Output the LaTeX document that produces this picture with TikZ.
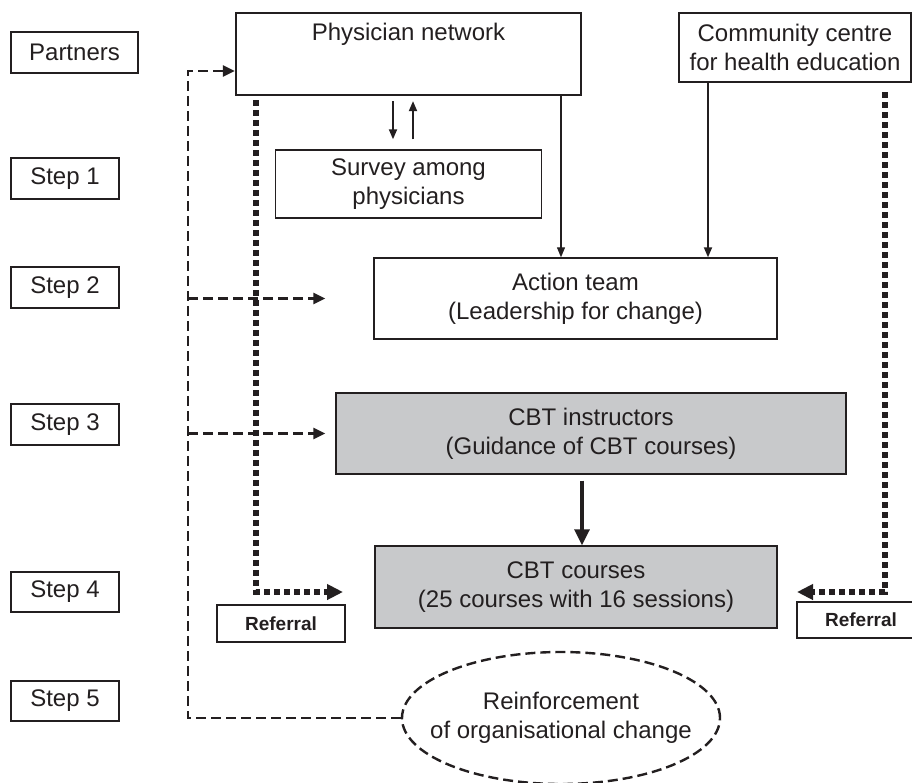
\documentclass[tikz,border=0pt]{standalone}
\usepackage{fontspec}
\setmainfont{Liberation Sans}
\usetikzlibrary{arrows.meta,shapes.geometric,calc}
\definecolor{ink}{RGB}{35,31,32}
\definecolor{boxgray}{RGB}{200,201,203}
\begin{document}
\begin{tikzpicture}[x=0.5pt,y=-0.5pt,
  font=\fontsize{12}{14.5}\selectfont, text=ink,
  box/.style={draw=ink, line width=0.7pt, inner sep=0pt, align=center},
  stepbox/.style={box, minimum height=20.5pt},
  grbox/.style={box, fill=boxgray},
  refbox/.style={box, font=\fontsize{9.5}{11}\selectfont\bfseries, minimum width=64pt, minimum height=18.5pt},
  thinarr/.style={draw=ink, line width=0.9pt, -{Triangle[length=5pt,width=4pt]}},
  dashline/.style={draw=ink, line width=1.2pt, dash pattern=on 5pt off 2.5pt},
  dasharr/.style={dashline, -{Triangle[length=6pt,width=5.5pt]}},
  dotarr/.style={draw=ink, line width=2.6pt, dash pattern=on 2.9pt off 2.1pt, -{Triangle[length=8pt,width=7.5pt]}},
  bigarr/.style={draw=ink, line width=1.6pt, -{Triangle[length=8pt,width=7.5pt]}}]
\useasboundingbox (0,0) rectangle (912,783);
\clip (0,0) rectangle (912,783);

% left column
\node[stepbox, minimum width=63.5pt] (partners) at (74.5,52.5) {Partners};
\node[stepbox, minimum width=54pt] (s1) at (65,178.5) {Step 1};
\node[stepbox, minimum width=54pt] (s2) at (65,287.5) {Step 2};
\node[stepbox, minimum width=54pt] (s3) at (65,424.5) {Step 3};
\node[stepbox, minimum width=54pt, minimum height=20pt] (s4) at (65,592) {Step 4};
\node[stepbox, minimum width=54pt, minimum height=20pt] (s5) at (65,701) {Step 5};

% main boxes
\node[box, line width=1.1pt, minimum width=172.5pt, minimum height=41pt,
      label={[anchor=center, yshift=-11pt]north:Physician network}] (pn) at (408.5,54) {};
\node[box, line width=0.9pt, minimum width=116pt, minimum height=34.5pt] (cc) at (795,47.5)
  {Community centre\\for health education};
\node[box, minimum width=133pt, minimum height=34pt] (survey) at (408.5,184)
  {Survey among\\physicians};
\node[box, minimum width=201.5pt, minimum height=40.5pt] (action) at (575.5,298.5)
  {Action team\\(Leadership for change)};
\node[grbox, minimum width=255pt, minimum height=40.5pt] (cbti) at (591,433.5)
  {CBT instructors\\(Guidance of CBT courses)};
\node[grbox, minimum width=201pt, minimum height=41pt] (cbtc) at (576,587)
  {CBT courses\\(25 courses with 16 sessions)};
\node[refbox] (refl) at (281,623.5) {Referral};
\node[refbox, minimum height=18pt] (refr) at (861,620) {Referral};
\node[box, ellipse, dashline, inner xsep=-12pt, minimum width=159pt, minimum height=66pt] (reinf) at (561,718)
  {Reinforcement\\of organisational change};

% thin connectors
\draw[thinarr, shorten <=2.5pt, shorten >=5pt] ($(pn.south)+(-15.5,0)$) -- ($(survey.north)+(-15.5,0)$);
\draw[thinarr, shorten <=5pt, shorten >=2.5pt] ($(survey.north)+(4.5,0)$) -- ($(pn.south)+(4.5,0)$);
\coordinate (pa) at ($(pn.south)+(152.5,0)$);
\draw[thinarr, line width=0.6pt] (pa) -- (pa |- action.north);
\coordinate (ca) at ($(cc.south)+(-87,0)$);
\draw[thinarr] (ca) -- (ca |- action.north);

% dashed feedback bus
\coordinate (bus) at (188,71);
\draw[dasharr] (reinf.west) -| (bus) -- (bus -| pn.west);
\draw[dasharr, shorten >=24pt] (bus |- action.west) -- (action.west);
\draw[dasharr, shorten >=5pt] (bus |- cbti.west) -- (cbti.west);

% dotted referral lines
\coordinate (dtl) at (256,100);
\coordinate (tipl) at (343,592);
\draw[dotarr] (dtl) |- (tipl);
\coordinate (dtr) at (885,92);
\coordinate (tipr) at (797,592);
\draw[dotarr] (dtr) |- (tipr);

% thick arrow
\coordinate (ta) at ($(cbti.south)+(-9,0)$);
\draw[bigarr, shorten <=3pt] (ta) -- (ta |- cbtc.north);
\end{tikzpicture}
\end{document}
